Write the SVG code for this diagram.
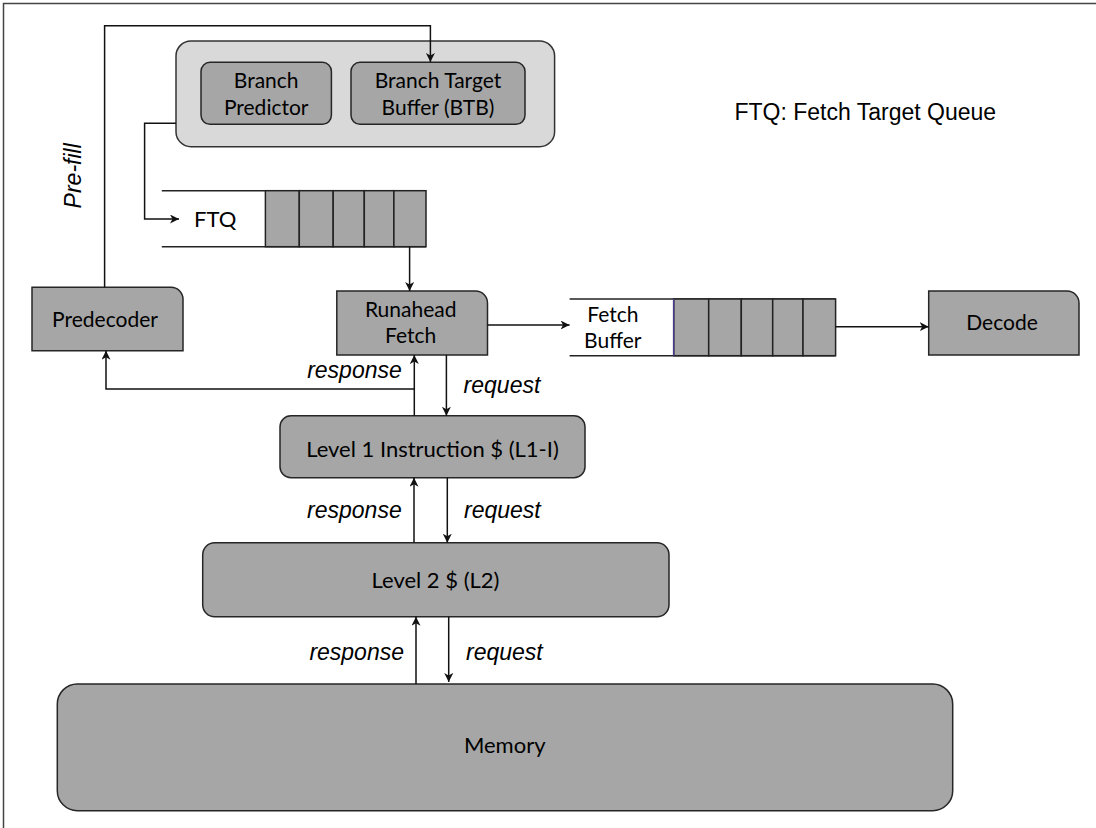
<svg xmlns="http://www.w3.org/2000/svg" width="1096" height="828" viewBox="0 0 1096 828">
<style>
.node{fill:#a6a6a6;stroke:#262626;stroke-width:1.5}
.grp{fill:#d9d9d9;stroke:#333;stroke-width:1.5}
.lbl{font-family:Lato,"Liberation Sans",sans-serif;font-size:21px;fill:#000;text-anchor:middle}
.it{font-family:"Liberation Sans",Arial,sans-serif;font-style:italic;font-size:23px;fill:#000}
.conn path,.conn line{fill:none;stroke:#111;stroke-width:1.5}
.qline{stroke:#222;stroke-width:1.5;fill:none}
.cell{fill:#a6a6a6;stroke:#222;stroke-width:1.5}
</style>
<defs>
<marker id="ah" markerUnits="userSpaceOnUse" markerWidth="12" markerHeight="12" refX="9" refY="4.5" orient="auto">
<path d="M0,0 L9,4.5 L0,9 L2.5,4.5 z" fill="#111"/>
</marker>
</defs>
<rect width="1096" height="828" fill="#fff"/>
<g id="frame">
<path d="M3.5,828 V3.5 H1096" fill="none" stroke="#444" stroke-width="1.5"/>
</g>
<g id="predictor-group">
<rect class="grp" x="176" y="41" width="378.6" height="105.7" rx="15"/>
</g>
<g id="branch-predictor">
<rect class="node" x="201" y="62.3" width="130.4" height="62" rx="9"/>
<text class="lbl" x="266.2" y="87.5">Branch</text>
<text class="lbl" x="266.2" y="115">Predictor</text>
</g>
<g id="btb">
<rect class="node" x="351" y="62.3" width="174" height="62" rx="9"/>
<text class="lbl" x="438" y="87.5">Branch Target</text>
<text class="lbl" x="438" y="115">Buffer (BTB)</text>
</g>
<g id="legend">
<text font-family="'Liberation Sans',Arial,sans-serif" font-size="23" x="734.5" y="120" fill="#000">FTQ: Fetch Target Queue</text>
</g>
<g id="ftq">
<line class="qline" x1="161.8" y1="190.7" x2="426" y2="190.7"/>
<line class="qline" x1="161.8" y1="246.7" x2="426" y2="246.7"/>
<rect class="cell" x="265.4" y="190.7" width="33.9" height="56"/>
<rect class="cell" x="299.3" y="190.7" width="33.9" height="56"/>
<rect class="cell" x="333.2" y="190.7" width="31.1" height="56"/>
<rect class="cell" x="364.3" y="190.7" width="29.6" height="56"/>
<rect class="cell" x="393.9" y="190.7" width="32.1" height="56"/>
<text class="lbl" x="194" y="226.7" style="text-anchor:start;font-size:22px">FTQ</text>
</g>
<g id="predecoder">
<path class="node" d="M32,287.3 H171 A12,12 0 0 1 183,299.3 V350.7 H32 Z"/>
<text class="lbl" x="105" y="326.7">Predecoder</text>
</g>
<g id="runahead-fetch">
<path class="node" d="M336.8,291 H475.5 A12,12 0 0 1 487.5,303 V355 H336.8 Z"/>
<text class="lbl" x="410.7" y="316.7">Runahead</text>
<text class="lbl" x="410.7" y="343.3">Fetch</text>
</g>
<g id="fetch-buffer">
<line class="qline" x1="569.6" y1="299" x2="835.6" y2="299"/>
<line class="qline" x1="569.6" y1="355.7" x2="835.6" y2="355.7"/>
<rect class="cell" x="673.7" y="299" width="35" height="56.7"/>
<rect class="cell" x="708.7" y="299" width="32.6" height="56.7"/>
<rect class="cell" x="741.3" y="299" width="31.4" height="56.7"/>
<rect class="cell" x="772.7" y="299" width="30.3" height="56.7"/>
<rect class="cell" x="803" y="299" width="32.6" height="56.7"/>
<line x1="673.7" y1="299" x2="673.7" y2="355.7" stroke="#4a3a8c" stroke-width="1.5"/>
<text class="lbl" x="612.8" y="321.7">Fetch</text>
<text class="lbl" x="612.8" y="348.3">Buffer</text>
</g>
<g id="decode">
<path class="node" d="M928.7,291 H1067 A12,12 0 0 1 1079,303 V355 H928.7 Z"/>
<text class="lbl" x="1002" y="330">Decode</text>
</g>
<g id="l1i">
<rect class="node" x="280" y="415.7" width="305" height="62" rx="11"/>
<text class="lbl" x="432.5" y="456.7" style="font-size:22px">Level 1 Instruction $ (L1-I)</text>
</g>
<g id="l2">
<rect class="node" x="202.7" y="542.7" width="466.3" height="74" rx="12"/>
<text class="lbl" x="435.5" y="588" style="font-size:22px">Level 2 $ (L2)</text>
</g>
<g id="memory">
<rect class="node" x="57.3" y="684" width="895.4" height="126.7" rx="20"/>
<text class="lbl" x="504.7" y="753" style="font-size:22px">Memory</text>
</g>
<g id="connectors" class="conn">
<path d="M104.6,287.3 V25.7 H430.4 V62" marker-end="url(#ah)"/>
<path d="M176,123.3 H144.6 V219 H179" marker-end="url(#ah)"/>
<path d="M409.6,246.7 V291" marker-end="url(#ah)"/>
<path d="M487.5,325 H569.6" marker-end="url(#ah)"/>
<path d="M835.6,326.7 H928.7" marker-end="url(#ah)"/>
<path d="M414.3,415.7 V355" marker-end="url(#ah)"/>
<path d="M414.3,389 H106 V350.7" marker-end="url(#ah)"/>
<path d="M446.4,355 V415.7" marker-end="url(#ah)"/>
<path d="M414,542.7 V477.7" marker-end="url(#ah)"/>
<path d="M447.3,477.7 V542.7" marker-end="url(#ah)"/>
<path d="M416,684 V616.7" marker-end="url(#ah)"/>
<path d="M448.7,616.7 V682" marker-end="url(#ah)"/>
</g>
<g id="labels">
<text class="it" transform="translate(81,175.8) rotate(-90)" text-anchor="middle">Pre-fill</text>
<text class="it" x="401.8" y="378.3" text-anchor="end">response</text>
<text class="it" x="463.6" y="393.3">request</text>
<text class="it" x="401.7" y="518.3" text-anchor="end">response</text>
<text class="it" x="464" y="518.3">request</text>
<text class="it" x="404" y="660" text-anchor="end">response</text>
<text class="it" x="466" y="660">request</text>
</g>
</svg>
